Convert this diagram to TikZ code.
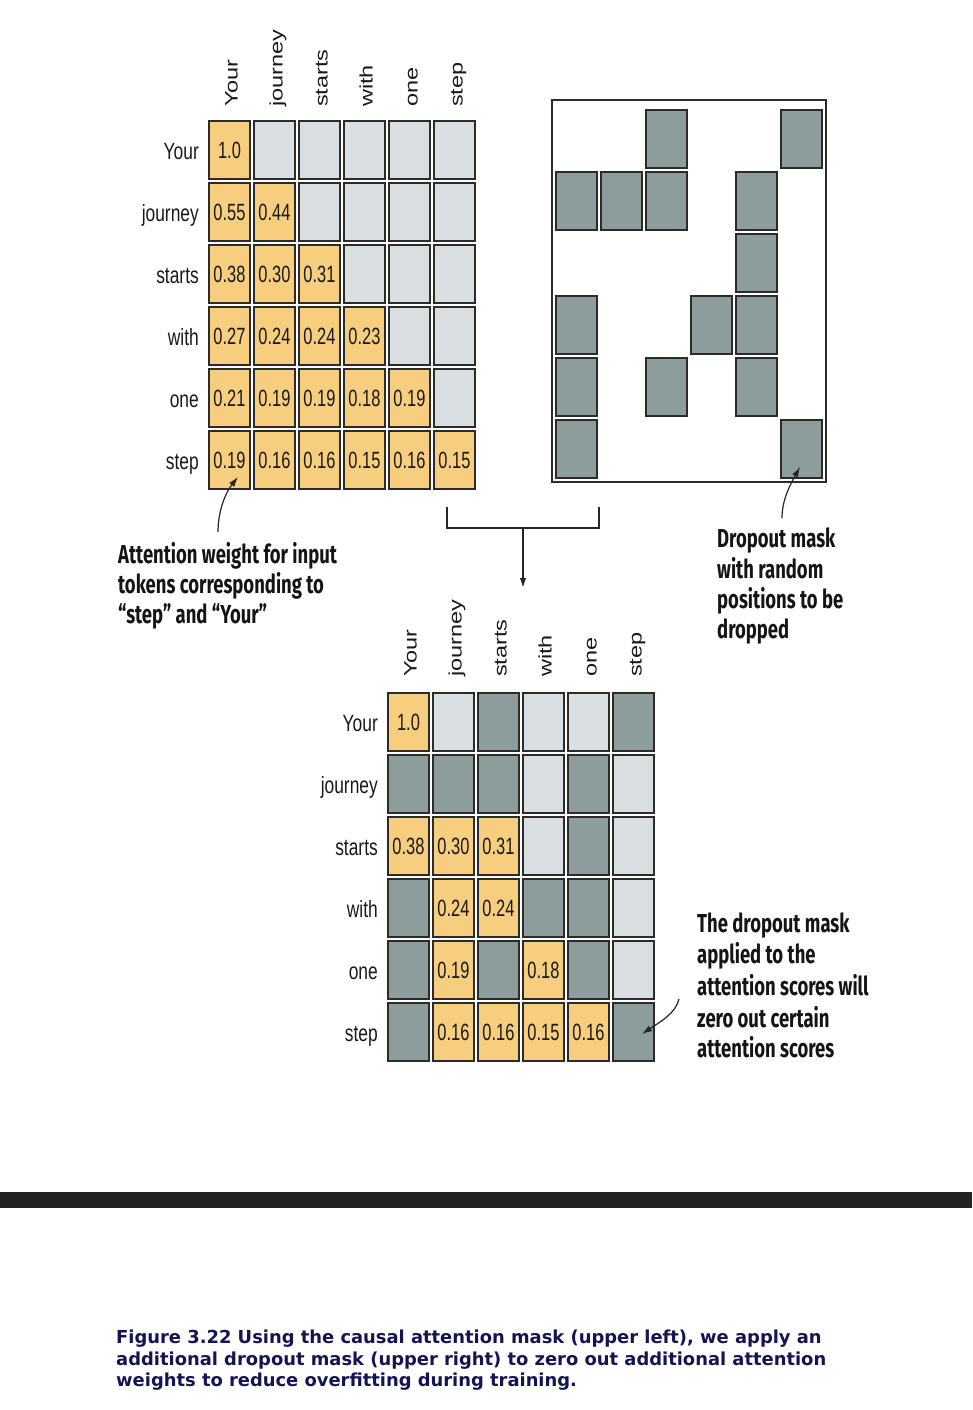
\documentclass[tikz,border=0pt]{standalone}
\usepackage{fontspec}
\usepackage{graphicx}
\usetikzlibrary{arrows.meta,calc}
\setmainfont{Liberation Sans}
\newfontfamily\narrowfont[FakeStretch=0.74]{Liberation Sans}
\newfontfamily\numfont[FakeStretch=0.70]{Liberation Sans}
\newfontfamily\annfont[FakeStretch=0.71]{Fira Sans}
\newfontfamily\capfont{DejaVu Sans}
\newcommand{\sqz}[1]{\scalebox{1}[0.77]{#1}}
\definecolor{cellorange}{HTML}{F6CE7E}
\definecolor{celllight}{HTML}{D9DFE0}
\definecolor{celldark}{HTML}{8D9D9B}
\definecolor{cellline}{HTML}{2B2B2B}
\definecolor{capblue}{HTML}{141455}
\definecolor{bandcol}{HTML}{232323}
\begin{document}
\begin{tikzpicture}[x=1pt,y=-1pt,
  cell/.style={draw=cellline, line width=1.8pt, minimum width=41pt, minimum height=58pt, inner sep=0pt, font=\numfont\fontsize{23.5}{23.5}\selectfont, text=black!90},
  orangecell/.style={cell, fill=cellorange},
  lightcell/.style={cell, fill=celllight},
  darkcell/.style={cell, fill=celldark},
  rowlabel/.style={anchor=base east, inner sep=0pt, text=black!90, font=\narrowfont\fontsize{23.5}{23.5}\selectfont},
  collabel/.style={anchor=base west, rotate=90, inner sep=0pt, text=black!90, font=\fontsize{23.5}{23.5}\selectfont},
  anntext/.style={anchor=base west, inner sep=0pt, text=black!92, font=\annfont\bfseries\fontsize{26}{26}\selectfont},
  captext/.style={anchor=base west, inner sep=0pt, text=capblue, font=\capfont\bfseries\fontsize{17.9}{17.9}\selectfont},
  pointer/.style={draw=black!85, line width=1.2pt, -{Latex[length=10pt,width=6.5pt]}},
]
\useasboundingbox (0,0) rectangle (972,1410);

% ---------- top-left causal mask ----------
\foreach \w [count=\i from 0] in {Your,journey,starts,with,one,step}
  \node[collabel] (tc\i) at ({229.5+45*\i+8},107) {\sqz{\w}};
\foreach \w [count=\i from 0] in {Your,journey,starts,with,one,step}
  \node[rowlabel] (tr\i) at (199,{150+62*\i+9}) {\w};
\foreach \r/\c/\v in {0/0/1.0, 1/0/0.55, 1/1/0.44, 2/0/0.38, 2/1/0.30, 2/2/0.31,
  3/0/0.27, 3/1/0.24, 3/2/0.24, 3/3/0.23, 4/0/0.21, 4/1/0.19, 4/2/0.19, 4/3/0.18, 4/4/0.19,
  5/0/0.19, 5/1/0.16, 5/2/0.16, 5/3/0.15, 5/4/0.16, 5/5/0.15}
  \node[orangecell] (t\r\c) at ({229.5+45*\c},{150+62*\r}) {\v};
\foreach \r/\c in {0/1,0/2,0/3,0/4,0/5,1/2,1/3,1/4,1/5,2/3,2/4,2/5,3/4,3/5,4/5}
  \node[lightcell] (t\r\c) at ({229.5+45*\c},{150+62*\r}) {};

% ---------- top-right dropout mask ----------
\node[draw=cellline, line width=1.8pt, minimum width=274pt, minimum height=382pt, inner sep=0pt] (maskbox) at (689,291) {};
\foreach \r/\c in {0/2,0/5,1/0,1/1,1/2,1/4,2/4,3/0,3/3,3/4,4/0,4/2,4/4,5/0,5/5}
  \node[darkcell] (m\r\c) at ({576.5+45*\c},{139+62*\r}) {};

% ---------- bracket and arrow ----------
\coordinate (brL) at (447,507);
\coordinate (brR) at (599,507);
\coordinate (brM) at (523,528);
\coordinate (brTip) at (523,588);
\draw[draw=black!85, line width=1.8pt] (brL) -- ++(0,21) -| (brR);
\draw[pointer, line width=1.5pt] (brM) -- (brTip);

% ---------- bottom result ----------
\foreach \w [count=\i from 0] in {Your,journey,starts,with,one,step}
  \node[collabel] (bc\i) at ({408.5+45*\i+8},677) {\sqz{\w}};
\foreach \w [count=\i from 0] in {Your,journey,starts,with,one,step}
  \node[rowlabel] (br\i) at (378,{722+62*\i+9}) {\w};
\foreach \r/\c/\v in {0/0/1.0, 2/0/0.38, 2/1/0.30, 2/2/0.31, 3/1/0.24, 3/2/0.24,
  4/1/0.19, 4/3/0.18, 5/1/0.16, 5/2/0.16, 5/3/0.15, 5/4/0.16}
  \node[orangecell] (b\r\c) at ({408.5+45*\c},{722+62*\r}) {\v};
\foreach \r/\c in {0/1,0/3,0/4,1/3,1/5,2/3,2/5,3/5,4/5}
  \node[lightcell] (b\r\c) at ({408.5+45*\c},{722+62*\r}) {};
\foreach \r/\c in {0/2,0/5,1/0,1/1,1/2,1/4,2/4,3/0,3/3,3/4,4/0,4/2,4/4,5/0,5/5}
  \node[darkcell] (b\r\c) at ({408.5+45*\c},{722+62*\r}) {};

% ---------- annotations ----------
\node[anntext] (a1l1) at (118,563) {Attention weight for input};
\node[anntext] (a1l2) at (118,593) {tokens corresponding to};
\node[anntext] (a1l3) at (118,623) {“step” and “Your”};
\coordinate (a1s) at (218,532);
\coordinate (a1t) at ($(t50.center)+(8.5,17)$);
\draw[pointer] (a1s) .. controls (218,510) and (226,492) .. (a1t);

\node[anntext] (a2l1) at (717,547) {Dropout mask};
\node[anntext] (a2l2) at (717,578) {with random};
\node[anntext] (a2l3) at (717,608) {positions to be};
\node[anntext] (a2l4) at (717,638) {dropped};
\coordinate (a2s) at (782,518);
\coordinate (a2t) at ($(m55.center)+(-1.5,18)$);
\draw[pointer] (a2s) .. controls (782,500) and (790,485) .. (a2t);

\node[anntext] (a3l1) at (697,932) {The dropout mask};
\node[anntext] (a3l2) at (697,963) {applied to the};
\node[anntext] (a3l3) at (697,995) {attention scores will};
\node[anntext] (a3l4) at (697,1027) {zero out certain};
\node[anntext] (a3l5) at (697,1057) {attention scores};
\coordinate (a3s) at (679,999);
\coordinate (a3t) at ($(b55.center)+(8.5,2)$);
\draw[pointer] (a3s) .. controls (676,1013) and (660,1022) .. (a3t);

% ---------- band and caption ----------
\fill[bandcol] (0,1192) rectangle (972,1208);
\node[captext] (cap1) at (116,1343) {Figure 3.22 Using the causal attention mask (upper left), we apply an};
\node[captext] (cap2) at (116,1365) {additional dropout mask (upper right) to zero out additional attention};
\node[captext] (cap3) at (116,1386) {weights to reduce overfitting during training.};
\end{tikzpicture}
\end{document}
